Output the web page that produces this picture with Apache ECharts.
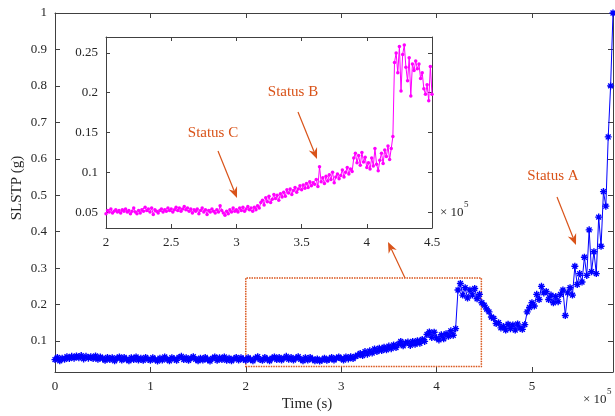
<!DOCTYPE html>
<html>
<head>
<meta charset="utf-8">
<script src="https://cdn.jsdelivr.net/npm/echarts@6/dist/echarts.min.js"></script>
<style>html,body{margin:0;padding:0;background:#fff}#c{width:615px;height:416px}</style>
</head>
<body>
<div id="c"></div>
<script>
// ---- data ----
const mainStart = 0, mainStep = 2500;
const mainValues = [
0.049,0.055,0.046,0.053,0.050,0.057,0.052,0.058,0.053,0.059,
0.054,0.060,0.051,0.058,0.053,0.057,0.052,0.059,0.050,0.056,
0.052,0.047,0.055,0.049,0.054,0.046,0.053,0.056,0.048,0.055,
0.050,0.046,0.054,0.049,0.056,0.048,0.053,0.047,0.055,0.050,
0.047,0.054,0.049,0.045,0.053,0.048,0.056,0.050,0.046,0.054,
0.051,0.047,0.055,0.058,0.049,0.054,0.047,0.053,0.057,0.050,
0.046,0.053,0.048,0.055,0.049,0.045,0.052,0.056,0.047,0.054,
0.049,0.056,0.047,0.053,0.046,0.051,0.055,0.048,0.054,0.050,
0.047,0.054,0.049,0.046,0.053,0.057,0.049,0.047,0.055,0.050,
0.046,0.053,0.056,0.049,0.055,0.048,0.053,0.058,0.050,0.055,
0.048,0.053,0.057,0.050,0.046,0.054,0.048,0.055,0.050,0.046,
0.051,0.045,0.048,0.053,0.047,0.050,0.055,0.048,0.053,0.056,
0.052,0.048,0.056,0.051,0.057,0.052,0.058,0.061,0.066,0.060,
0.071,0.064,0.073,0.067,0.078,0.071,0.080,0.074,0.083,0.076,
0.086,0.079,0.089,0.082,0.091,0.099,0.087,0.095,0.097,0.088,
0.099,0.091,0.101,0.094,0.104,0.099,0.118,0.125,0.110,0.124,
0.108,0.103,0.117,0.106,0.120,0.113,0.128,0.116,0.134,0.240,
0.258,0.226,0.246,0.218,0.240,0.226,0.244,0.216,0.228,0.205,
0.198,0.188,0.180,0.166,0.162,0.148,0.150,0.136,0.140,0.130,
0.146,0.134,0.144,0.130,0.147,0.136,0.132,0.145,0.180,0.192,
0.205,0.196,0.228,0.214,0.250,0.232,0.236,0.214,0.226,0.205,
0.222,0.208,0.228,0.240,0.170,0.232,0.246,0.226,0.305,0.255,
0.285,0.262,0.330,0.280,0.405,0.290,0.345,0.285,0.440,0.360,
0.510,0.470,0.660,0.800,1.000
];
const insetStart = 200000, insetStep = 1250;
const insetValues = [
0.048,0.052,0.050,0.054,0.049,0.051,0.053,0.050,
0.052,0.049,0.053,0.051,0.054,0.050,0.052,0.048,
0.051,0.055,0.050,0.048,0.052,0.049,0.053,0.051,
0.056,0.052,0.054,0.050,0.055,0.047,0.053,0.051,
0.049,0.052,0.054,0.050,0.053,0.051,0.055,0.052,
0.054,0.050,0.053,0.056,0.052,0.055,0.051,0.054,
0.057,0.053,0.055,0.051,0.054,0.049,0.053,0.051,
0.054,0.048,0.052,0.055,0.050,0.053,0.047,0.052,
0.050,0.054,0.051,0.049,0.053,0.050,0.058,0.052,
0.049,0.046,0.051,0.048,0.053,0.050,0.055,0.051,
0.053,0.050,0.055,0.052,0.056,0.051,0.054,0.057,
0.053,0.055,0.051,0.056,0.053,0.058,0.055,0.062,
0.065,0.059,0.068,0.063,0.070,0.062,0.066,0.072,
0.067,0.071,0.065,0.073,0.069,0.075,0.070,0.078,
0.074,0.079,0.072,0.077,0.081,0.075,0.079,0.083,
0.078,0.084,0.080,0.086,0.081,0.088,0.083,0.087,
0.085,0.091,0.082,0.107,0.088,0.093,0.086,0.095,
0.089,0.097,0.091,0.100,0.087,0.094,0.098,0.092,
0.096,0.103,0.094,0.100,0.106,0.098,0.104,0.101,
0.118,0.124,0.112,0.121,0.109,0.125,0.113,0.119,
0.106,0.112,0.104,0.118,0.108,0.130,0.110,0.102,
0.115,0.124,0.111,0.128,0.120,0.133,0.116,0.130,
0.145,0.238,0.250,0.225,0.258,0.202,0.248,0.260,
0.232,0.215,0.244,0.196,0.236,0.228,0.240,0.230,
0.236,0.218,0.225,0.205,0.198,0.210,0.190,0.233,
0.198
];
const mainXTicks = [0,100000,200000,300000,400000,500000];
const mainYTicks = [0.1,0.2,0.3,0.4,0.5,0.6,0.7,0.8,0.9,1];
const insetXTicks = [200000,250000,300000,350000,400000,450000];
const insetYTicks = [0.05,0.1,0.15,0.2,0.25];
const zoomBox = [[200000,0.03],[447000,0.273]];

// ---- chart ----
const FONT = '"Liberation Serif", "Times New Roman", serif';
const AX = '#404040', TXT = '#262626', ORANGE = '#D95319';
const asterisk = 'path://M-1,-5L1,-5L1,5L-1,5Z M-5,-1L5,-1L5,1L-5,1Z M-4.2,-2.8L-2.8,-4.2L4.2,2.8L2.8,4.2Z M2.8,-4.2L4.2,-2.8L-2.8,4.2L-4.2,2.8Z';

function xAx(grid, min, max, ticks, pos, labels, tickLen){
  return {type:'value', gridIndex:grid, position:pos, min:min, max:max,
    axisLine:{show:true, onZero:false, lineStyle:{color:AX, width:1}},
    axisTick:{show:true, inside:true, length:tickLen, customValues:ticks, lineStyle:{color:AX}},
    axisLabel:{show:labels, customValues:ticks, color:TXT, fontFamily:FONT, fontSize:13, margin:8,
      formatter:v=>String(+(v/1e5).toFixed(2))},
    splitLine:{show:false}};
}
function yAx(grid, min, max, ticks, pos, labels, tickLen, margin){
  return {type:'value', gridIndex:grid, position:pos, min:min, max:max,
    axisLine:{show:true, onZero:false, lineStyle:{color:AX, width:1}},
    axisTick:{show:true, inside:true, length:tickLen, customValues:ticks, lineStyle:{color:AX}},
    axisLabel:{show:labels, customValues:ticks, color:TXT, fontFamily:FONT, fontSize:13, margin:margin,
      formatter:v=>String(v)},
    splitLine:{show:false}};
}
function arrowEls(x1,y1,x2,y2){
  const dx=x2-x1, dy=y2-y1, L=Math.hypot(dx,dy), ux=dx/L, uy=dy/L, px=-uy, py=ux;
  const hl=11, hw=4.5, notch=3.5;
  const bx=x2-ux*hl, by=y2-uy*hl, nx=x2-ux*(hl-notch), ny=y2-uy*(hl-notch);
  return [
    {type:'line', shape:{x1:x1,y1:y1,x2:nx,y2:ny}, style:{stroke:ORANGE, lineWidth:1.2}, z:100},
    {type:'polygon', shape:{points:[[x2,y2],[bx+px*hw,by+py*hw],[nx,ny],[bx-px*hw,by-py*hw]]}, style:{fill:ORANGE}, z:100}
  ];
}
function txt(x,y,t,size,color,extra){
  return Object.assign({type:'text', x:x, y:y, z:100, style:{text:t, fill:color, font:size+'px '+FONT,
    textAlign:'center', textVerticalAlign:'middle', align:'center', verticalAlign:'middle'}}, extra||{});
}

const chart = echarts.init(document.getElementById('c'), null, {renderer:'canvas'});
const mainData = mainValues.map((v,i)=>[mainStart+i*mainStep, v]);
const insetData = insetValues.map((v,i)=>[insetStart+i*insetStep, v]);

chart.setOption({
  animation:false,
  backgroundColor:'#fff',
  grid:[
    {left:55, top:13, right:2, bottom:44, containLabel:false},
    {left:106, top:37, width:326, height:191, show:true, backgroundColor:'#fff', borderWidth:0, z:5}
  ],
  xAxis:[
    xAx(0,0,585000,mainXTicks,'bottom',true,5),
    xAx(0,0,585000,mainXTicks,'top',false,5),
    Object.assign(xAx(1,200000,450000,insetXTicks,'bottom',true,4),{z:6}),
    Object.assign(xAx(1,200000,450000,insetXTicks,'top',false,4),{z:6})
  ],
  yAxis:[
    yAx(0,0.015,1,mainYTicks,'left',true,5,8),
    yAx(0,0.015,1,mainYTicks,'right',false,5,8),
    Object.assign(yAx(1,0.03,0.27,insetYTicks,'left',true,4,8),{z:6}),
    Object.assign(yAx(1,0.03,0.27,insetYTicks,'right',false,4,8),{z:6})
  ],
  series:[
    {type:'line', xAxisIndex:0, yAxisIndex:0, data:mainData, symbol:asterisk, symbolSize:7,
      lineStyle:{color:'#0000FF', width:1}, itemStyle:{color:'#0000FF'}, z:2,
      markArea:{silent:true, itemStyle:{color:'rgba(0,0,0,0)', borderColor:ORANGE, borderWidth:1.5, borderType:[1.5,1]},
        data:[[{xAxis:zoomBox[0][0], yAxis:zoomBox[0][1]},{xAxis:zoomBox[1][0], yAxis:zoomBox[1][1]}]]}},
    {type:'line', xAxisIndex:2, yAxisIndex:2, data:insetData, symbol:'circle', symbolSize:3.5,
      lineStyle:{color:'#FF00FF', width:1}, itemStyle:{color:'#FF00FF'}, z:7}
  ],
  graphic:[
    txt(307,404,'Time (s)',15,TXT),
    txt(17,188,'SLSTP (g)',15,TXT,{rotation:Math.PI/2}),
    {type:'text', x:583, y:400, z:100, style:{text:'× 10', fill:TXT, font:'13px '+FONT, textAlign:'left', textVerticalAlign:'middle', align:'left', verticalAlign:'middle'}},
    {type:'text', x:607, y:392, z:100, style:{text:'5', fill:TXT, font:'9px '+FONT, textAlign:'left', textVerticalAlign:'middle', align:'left', verticalAlign:'middle'}},
    {type:'text', x:440, y:213, z:100, style:{text:'× 10', fill:TXT, font:'13px '+FONT, textAlign:'left', textVerticalAlign:'middle', align:'left', verticalAlign:'middle'}},
    {type:'text', x:464, y:205, z:100, style:{text:'5', fill:TXT, font:'9px '+FONT, textAlign:'left', textVerticalAlign:'middle', align:'left', verticalAlign:'middle'}},
    txt(213,133,'Status C',15,ORANGE),
    txt(293,92,'Status B',15,ORANGE),
    txt(553,176,'Status A',15,ORANGE),
    ...arrowEls(218,151,237,198),
    ...arrowEls(298,112,317,159),
    ...arrowEls(557,197,576,245),
    ...arrowEls(405,278,388,242)
  ]
});
</script>
</body>
</html>
